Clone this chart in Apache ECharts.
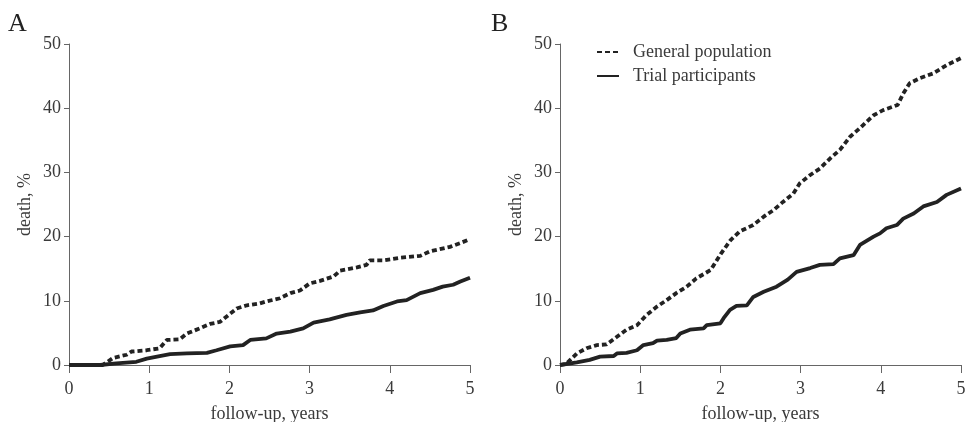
<!DOCTYPE html>
<html>
<head>
<meta charset="utf-8">
<script src="https://cdn.jsdelivr.net/npm/echarts@6/dist/echarts.min.js"></script>
<style>
  html, body { margin: 0; padding: 0; background: #fff; }
  #chart { width: 969px; height: 422px; }
</style>
</head>
<body>
<div id="chart"></div>
<script>
// panel A: [years, death %]
const generalA = [
  [0, 0], [0.42, 0], [0.48, 0.5], [0.55, 1.1], [0.72, 1.6], [0.78, 2.1], [0.97, 2.3],
  [1.13, 2.6], [1.22, 3.9], [1.38, 4.0], [1.47, 4.9], [1.63, 5.7], [1.76, 6.4],
  [1.88, 6.7], [2.01, 8.0], [2.09, 8.8], [2.22, 9.3], [2.38, 9.6], [2.46, 9.9],
  [2.63, 10.4], [2.76, 11.2], [2.88, 11.6], [3.0, 12.7], [3.13, 13.1], [3.30, 13.8],
  [3.38, 14.7], [3.59, 15.2], [3.71, 15.6], [3.75, 16.3], [3.92, 16.3], [4.13, 16.7],
  [4.38, 17.0], [4.50, 17.7], [4.75, 18.4], [4.88, 19.0], [5.0, 19.6]
];
const trialA = [
  [0, 0], [0.39, 0], [0.59, 0.26], [0.84, 0.5], [0.97, 1.0], [1.13, 1.4], [1.26, 1.7],
  [1.47, 1.8], [1.72, 1.9], [1.84, 2.3], [2.01, 2.9], [2.17, 3.1], [2.26, 3.9],
  [2.46, 4.15], [2.59, 4.9], [2.76, 5.2], [2.92, 5.7], [3.05, 6.6], [3.25, 7.1],
  [3.46, 7.8], [3.63, 8.2], [3.79, 8.5], [3.92, 9.2], [4.09, 9.9], [4.21, 10.1],
  [4.38, 11.2], [4.54, 11.7], [4.66, 12.2], [4.79, 12.5], [4.88, 13.0], [5.0, 13.6]
];
// panel B
const generalB = [
  [0, 0], [0.08, 0.2], [0.21, 1.8], [0.33, 2.6], [0.46, 3.1], [0.58, 3.2], [0.71, 4.4],
  [0.83, 5.5], [0.96, 6.2], [1.08, 7.8], [1.21, 9.1], [1.33, 10.1], [1.45, 11.2],
  [1.58, 12.2], [1.70, 13.5], [1.88, 14.8], [2.01, 17.4], [2.13, 19.5], [2.24, 20.8],
  [2.41, 21.8], [2.54, 23.1], [2.66, 24.1], [2.78, 25.4], [2.91, 26.7], [2.99, 28.3],
  [3.12, 29.6], [3.24, 30.6], [3.37, 32.2], [3.49, 33.5], [3.62, 35.6], [3.74, 36.9],
  [3.91, 38.9], [4.03, 39.7], [4.21, 40.5], [4.28, 42.3], [4.36, 43.9], [4.49, 44.7],
  [4.65, 45.4], [4.82, 46.7], [5.0, 47.8]
];
const trialB = [
  [0, 0], [0.21, 0.4], [0.37, 0.8], [0.5, 1.3], [0.67, 1.4], [0.71, 1.8], [0.83, 1.9],
  [0.96, 2.3], [1.04, 3.1], [1.16, 3.4], [1.21, 3.8], [1.33, 3.9], [1.45, 4.2],
  [1.50, 4.9], [1.62, 5.5], [1.79, 5.7], [1.83, 6.2], [2.0, 6.5], [2.04, 7.3],
  [2.12, 8.6], [2.20, 9.2], [2.33, 9.3], [2.41, 10.6], [2.54, 11.4], [2.70, 12.2],
  [2.84, 13.3], [2.95, 14.5], [3.12, 15.1], [3.24, 15.6], [3.41, 15.7], [3.49, 16.6],
  [3.66, 17.1], [3.74, 18.7], [3.91, 20.0], [3.99, 20.5], [4.07, 21.3], [4.20, 21.8],
  [4.28, 22.8], [4.41, 23.6], [4.53, 24.7], [4.70, 25.4], [4.82, 26.5], [5.0, 27.5]
];
const xTicks = { min: 0, max: 5, interval: 1 };
const yTicks = { min: 0, max: 50, interval: 10 };
const names = ['General population', 'Trial participants'];

const chart = echarts.init(document.getElementById('chart'));
const font = 'Liberation Serif, DejaVu Serif, serif';
const lineColor = '#222';

function xAxis(i) {
  return {
    type: 'value', gridIndex: i,
    min: xTicks.min, max: xTicks.max, interval: xTicks.interval,
    name: 'follow-up, years', nameLocation: 'middle', nameGap: 40,
    nameTextStyle: { fontFamily: font, fontSize: 18, color: '#3a3a3a' },
    axisLine: { lineStyle: { color: '#666', width: 1 } },
    axisTick: { show: true, length: 8, lineStyle: { color: '#666' } },
    axisLabel: { fontFamily: font, fontSize: 18, color: '#3a3a3a', margin: 15 },
    splitLine: { show: false }
  };
}
function yAxis(i) {
  return {
    type: 'value', gridIndex: i,
    min: yTicks.min, max: yTicks.max, interval: yTicks.interval,
    name: 'death, %', nameLocation: 'middle', nameGap: 35, nameRotate: 90,
    nameTextStyle: { fontFamily: font, fontSize: 18, color: '#3a3a3a' },
    axisLine: { show: true, lineStyle: { color: '#666', width: 1 } },
    axisTick: { show: true, length: 5, lineStyle: { color: '#666' } },
    axisLabel: { fontFamily: font, fontSize: 18, color: '#3a3a3a', margin: 8 },
    splitLine: { show: false }
  };
}
function series(name, data, i, dashed) {
  return {
    name: name, type: 'line', xAxisIndex: i, yAxisIndex: i,
    data: data, symbol: 'none', silent: true,
    lineStyle: { color: lineColor, width: 3.8, type: dashed ? [5, 3] : 'solid' },
    itemStyle: { color: lineColor }
  };
}

chart.setOption({
  animation: false,
  backgroundColor: '#fff',
  title: [
    { text: 'A', left: 3, top: 6, textStyle: { fontFamily: font, fontSize: 26, fontWeight: 'normal', color: '#222' } },
    { text: 'B', left: 486, top: 6, textStyle: { fontFamily: font, fontSize: 26, fontWeight: 'normal', color: '#222' } }
  ],
  legend: {
    orient: 'vertical', left: 591, top: 38, itemGap: 6,
    itemWidth: 22, itemHeight: 12,
    itemStyle: { opacity: 0 },
    textStyle: { fontFamily: font, fontSize: 18, color: '#3a3a3a', padding: [0, 0, 0, 9] },
    data: names
  },
  grid: [
    { left: 69, right: 499, top: 44, bottom: 57, outerBoundsMode: 'none' },
    { left: 560, right: 8, top: 44, bottom: 57, outerBoundsMode: 'none' }
  ],
  xAxis: [xAxis(0), xAxis(1)],
  yAxis: [yAxis(0), yAxis(1)],
  series: [
    series(names[0], generalA, 0, true),
    series(names[1], trialA, 0, false),
    series(names[0], generalB, 1, true),
    series(names[1], trialB, 1, false)
  ]
});
</script>
</body>
</html>
